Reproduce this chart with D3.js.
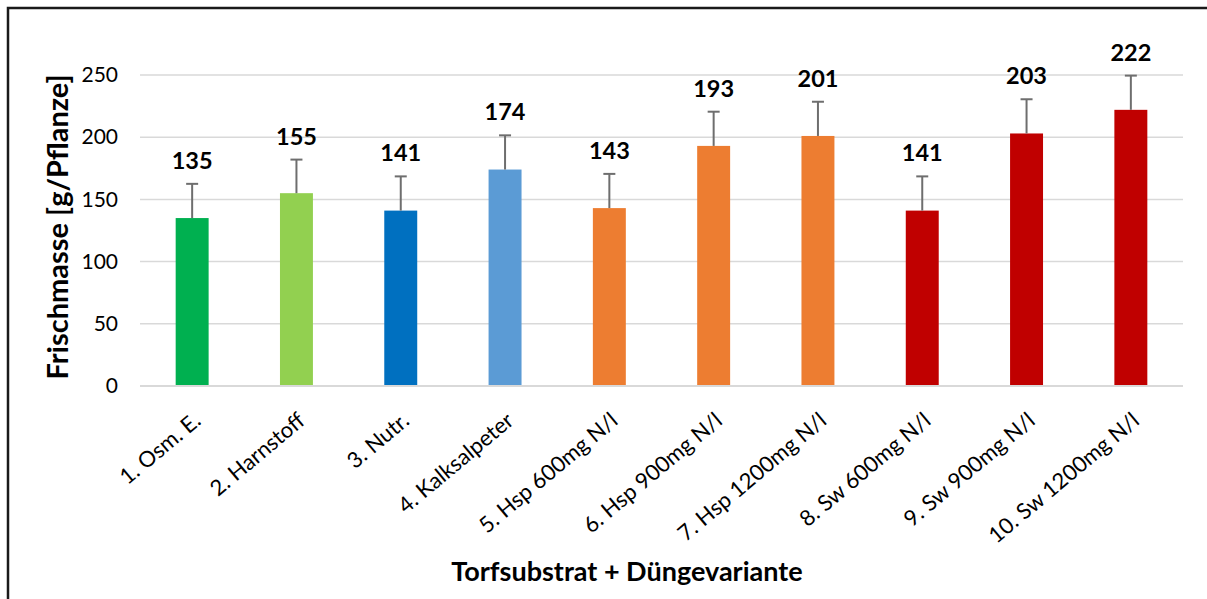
<!DOCTYPE html>
<html>
<head>
<meta charset="utf-8">
<script src="https://cdn.jsdelivr.net/npm/d3@7"></script>
<style>
  html, body { margin: 0; padding: 0; background: #fff; }
  svg { display: block; }
</style>
</head>
<body>
<svg id="chart" width="1207" height="599"></svg>
<script>
const categories = ["1. Osm. E.", "2. Harnstoff", "3. Nutr.", "4. Kalksalpeter", "5. Hsp 600mg N/l",
  "6. Hsp 900mg N/l", "7. Hsp 1200mg N/l", "8. Sw 600mg N/l", "9. Sw 900mg N/l", "10. Sw 1200mg N/l"];
const values = [135, 155, 141, 174, 143, 193, 201, 141, 203, 222];
const errors = [27.5, 27, 27.5, 27.5, 27.5, 27.5, 27.5, 27.5, 27.5, 27.5];
const colors = ["#00b050", "#92d050", "#0070c0", "#5b9bd5", "#ed7d31", "#ed7d31", "#ed7d31", "#c00000", "#c00000", "#c00000"];
const yTicks = [0, 50, 100, 150, 200, 250];
const yTitle = "Frischmasse [g/Pflanze]";
const xTitle = "Torfsubstrat + Düngevariante";

(function () {
const svg = d3.select("#chart");
const FONT = "Lato, 'Open Sans', sans-serif";

// frame
svg.append("rect").attr("x", 8).attr("y", 8).attr("width", 1260).attr("height", 700)
  .attr("fill", "none").attr("stroke", "#1a1a1a").attr("stroke-width", 2.5);

const pLeft = 140, pRight = 1183, pBottom = 386, pTop = 75;
const x = d3.scaleBand().domain(categories).range([pLeft, pRight]).paddingInner(0.684).paddingOuter(0.342);
const y = d3.scaleLinear().domain([0, 250]).range([pBottom, pTop]);

// gridlines
svg.append("g").selectAll("line").data(yTicks).join("line")
  .attr("x1", pLeft).attr("x2", pRight)
  .attr("y1", d => y(d)).attr("y2", d => y(d))
  .attr("stroke", "#d9d9d9").attr("stroke-width", 1.5);

// y axis labels
const yAxis = d3.axisLeft(y).tickValues(yTicks).tickSize(0).tickPadding(0);
const gy = svg.append("g").attr("transform", `translate(118,0)`).call(yAxis);
gy.select(".domain").remove();
gy.selectAll("text").attr("font-family", FONT).attr("font-size", 21).attr("fill", "#000");

// bars
svg.append("g").selectAll("rect").data(values).join("rect")
  .attr("x", (d, i) => x(categories[i]))
  .attr("y", d => y(d))
  .attr("width", x.bandwidth())
  .attr("height", d => y(0) - y(d))
  .attr("fill", (d, i) => colors[i]);

// error bars
const eg = svg.append("g").attr("stroke", "#6e6e6e").attr("stroke-width", 2);
values.forEach((v, i) => {
  const cx = x(categories[i]) + x.bandwidth() / 2;
  eg.append("line").attr("x1", cx).attr("x2", cx).attr("y1", y(v)).attr("y2", y(v + errors[i]));
  eg.append("line").attr("x1", cx - 6).attr("x2", cx + 6).attr("y1", y(v + errors[i])).attr("y2", y(v + errors[i]));
});

// data labels
svg.append("g").selectAll("text").data(values).join("text")
  .attr("x", (d, i) => x(categories[i]) + x.bandwidth() / 2)
  .attr("y", (d, i) => y(d + errors[i]) - 15)
  .attr("text-anchor", "middle")
  .attr("font-family", FONT).attr("font-weight", "bold").attr("font-size", 23.5)
  .text(d => d);

// x axis line
svg.append("line").attr("x1", pLeft).attr("x2", pRight).attr("y1", pBottom).attr("y2", pBottom)
  .attr("stroke", "#d9d9d9").attr("stroke-width", 2);

// x labels
svg.append("g").selectAll("text").data(categories).join("text")
  .attr("transform", d => `translate(${x(d) + x.bandwidth() / 2 + 10},423) rotate(-40)`)
  .attr("text-anchor", "end")
  .attr("font-family", FONT).attr("font-size", 22)
  .text(d => d);

// titles
svg.append("text").attr("transform", "translate(68,227) rotate(-90)")
  .attr("text-anchor", "middle").attr("font-family", FONT).attr("font-weight", "bold").attr("font-size", 29)
  .text(yTitle);
svg.append("text").attr("x", 627).attr("y", 581)
  .attr("text-anchor", "middle").attr("font-family", FONT).attr("font-weight", "bold").attr("font-size", 27)
  .text(xTitle);
})();
</script>
</body>
</html>
